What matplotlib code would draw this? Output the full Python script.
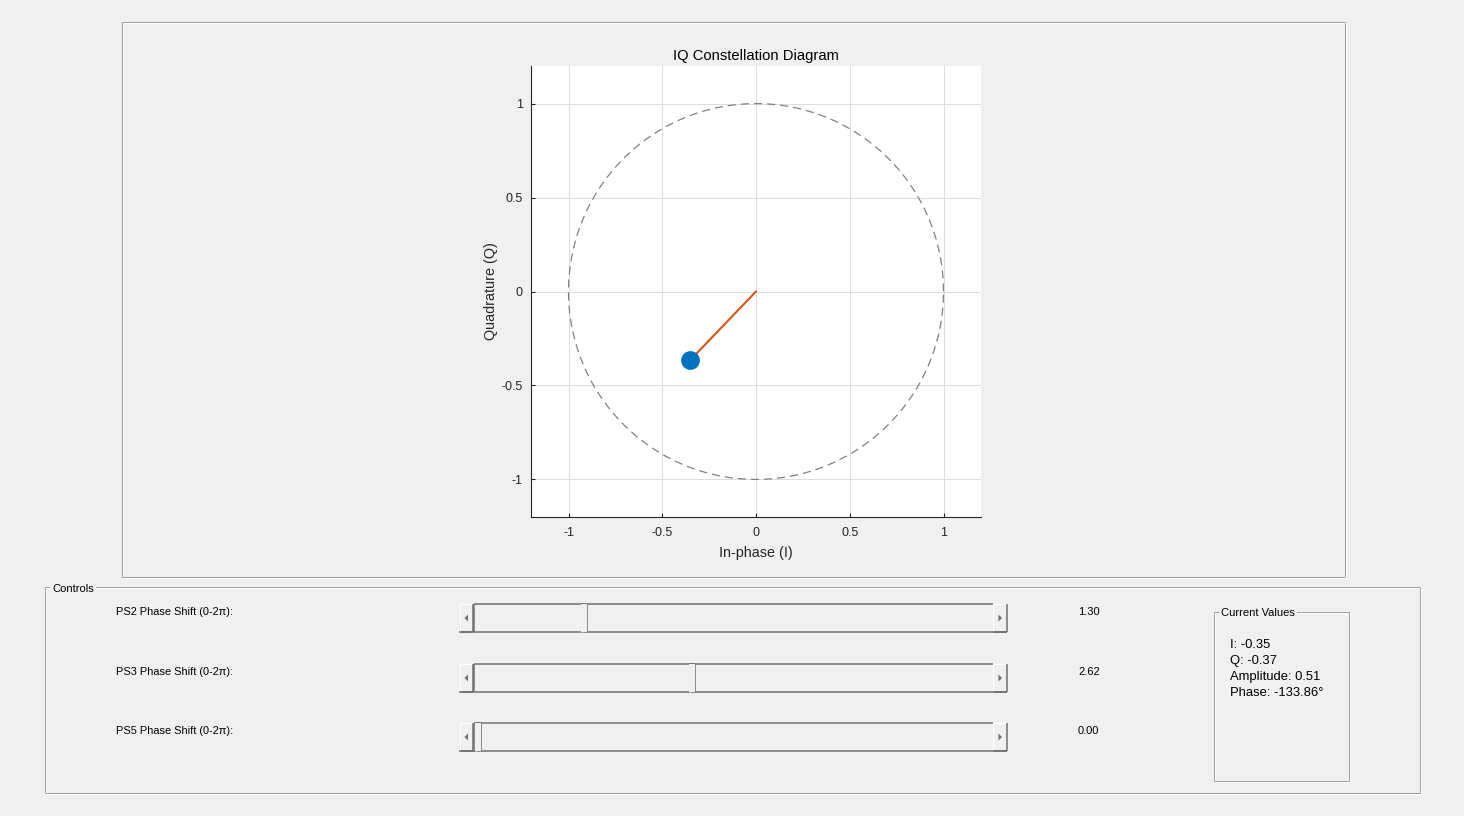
import numpy as np
import matplotlib
matplotlib.use('Agg')
from matplotlib import pyplot as plt
from matplotlib.patches import Rectangle, Polygon

plt.rcParams['font.family'] = ['Liberation Sans', 'DejaVu Sans']

# Data
slider_labels = ['PS2 Phase Shift (0-2π):', 'PS3 Phase Shift (0-2π):', 'PS5 Phase Shift (0-2π):']
slider_values = [1.30, 2.62, 0.00]
i_val = -0.3525
q_val = -0.3668
ticks = [-1, -0.5, 0, 0.5, 1]

BG = '#f0f0f0'
DARK = '#6e6e6e'
EDGE = '#a0a0a0'
PX = 0.72  # one pixel in points at dpi 100

fig = plt.figure(figsize=(14.64, 8.16), dpi=100, facecolor=BG)

# Background axes in pixel coordinates for the GUI chrome
bg = fig.add_axes([0, 0, 1, 1])
bg.set_xlim(0, 1464)
bg.set_ylim(816, 0)
bg.axis('off')
bg.set_facecolor(BG)


def hline(x0, x1, y, c, lw=1):
    bg.plot([x0, x1], [y, y], color=c, lw=lw * PX, solid_capstyle='butt')


def vline(x, y0, y1, c, lw=1):
    bg.plot([x, x], [y0, y1], color=c, lw=lw * PX, solid_capstyle='butt')


def etched(x0, y0, x1, y1):
    # grey line with a white line just inside, like a Windows group box
    for off, c in [(1, 'white'), (0, EDGE)]:
        hline(x0 + off, x1 + off, y0 + off, c)
        hline(x0 + off, x1 + off, y1 + off, c)
        vline(x0 + off, y0 + off, y1 + off, c)
        vline(x1 + off, y0 + off, y1 + off, c)


def panel_title(x, y, s, size=8):
    bg.text(x, y, s, fontsize=size, va='center', ha='left', color='black',
            bbox=dict(facecolor=BG, edgecolor='none', pad=1.5))


etched(122, 22, 1345, 577)
etched(45, 587, 1420, 793)
panel_title(52, 588.5, 'Controls')
etched(1214, 612, 1349, 781)
panel_title(1221, 613.5, 'Current Values')


def button(x0, x1, y0, y1, direction):
    bg.add_patch(Rectangle((x0, y0), x1 - x0, y1 - y0, facecolor=BG, edgecolor='none'))
    hline(x0, x1, y0, 'white')
    vline(x0, y0, y1, 'white')
    hline(x0, x1, y1, DARK, 1.5)
    vline(x1, y0, y1, DARK, 1.5)
    cx, cy = (x0 + x1) / 2, (y0 + y1) / 2
    if direction == 'left':
        pts = [(cx - 2, cy), (cx + 1.5, cy - 3.5), (cx + 1.5, cy + 3.5)]
    else:
        pts = [(cx + 2, cy), (cx - 1.5, cy - 3.5), (cx - 1.5, cy + 3.5)]
    bg.add_patch(Polygon(pts, closed=True, facecolor='#707070', edgecolor='none'))


row_y = [604, 664, 723]
sl_x0, sl_x1 = 459, 1007
trough_x0, trough_x1 = 474, 993
for lab, val, y in zip(slider_labels, slider_values, row_y):
    y1 = y + 28
    bg.text(116, y + 8, lab, fontsize=7.9, va='center', ha='left')
    bg.text(1078, y + 8, '%.2f' % val, fontsize=8, va='center', ha='left')
    # trough
    hline(trough_x0, trough_x1, y, DARK, 1.5)
    hline(sl_x0, sl_x1, y1, DARK, 1.5)
    vline(trough_x0, y, y1, DARK, 1.5)
    # arrow buttons
    button(sl_x0 + 1, trough_x0 - 1, y, y1, 'left')
    button(trough_x1, sl_x1, y, y1, 'right')
    # thumb
    frac = val / (2 * np.pi)
    tx = 475 + frac * 514
    bg.add_patch(Rectangle((tx, y), 6, 28, facecolor=BG, edgecolor='none', zorder=3))
    vline(tx + 0.5, y, y1, 'white')
    vline(tx + 6, y, y1, DARK, 1.5)
    hline(tx, tx + 6, y, DARK, 1.5)

amp = np.hypot(i_val, q_val)
phase = np.degrees(np.arctan2(q_val, i_val))
info = ['I: %.2f' % i_val, 'Q: %.2f' % q_val,
        'Amplitude: %.2f' % amp, 'Phase: %.2f°' % phase]
for k, s in enumerate(info):
    bg.text(1230, 645 + 16 * k, s, fontsize=9.4, va='center', ha='left')

# Constellation axes
ax = fig.add_axes([531 / 1464, 1 - 517 / 816, 450 / 1464, 451 / 816])
ax.set_facecolor('white')
theta = np.linspace(0, 2 * np.pi, 400)
ax.plot(np.cos(theta), np.sin(theta), color='#808080', lw=0.9,
        linestyle=(0, (6.5, 4)))
ax.plot([0, i_val], [0, q_val], color='#D95319', lw=1.5)
ax.plot([i_val], [q_val], 'o', color='#0072BD', markersize=12.5,
        markeredgecolor='#0072BD')
ax.set_xlim(-1.2, 1.2)
ax.set_ylim(-1.2, 1.2)
ax.set_xticks(ticks)
ax.set_yticks(ticks)
ax.set_xticklabels(['-1', '-0.5', '0', '0.5', '1'])
ax.set_yticklabels(['-1', '-0.5', '0', '0.5', '1'])
ax.grid(True, color='#dcdcdc', lw=0.7)
ax.set_axisbelow(True)
for side in ['top', 'right']:
    ax.spines[side].set_visible(False)
for side in ['left', 'bottom']:
    ax.spines[side].set_color('#262626')
    ax.spines[side].set_linewidth(0.8)
ax.tick_params(direction='in', length=3, width=0.8, colors='#262626',
               labelsize=9, pad=6)
ax.tick_params(axis='x', pad=7.5)
ax.set_title('IQ Constellation Diagram', fontsize=10.6, pad=4)
ax.set_xlabel('In-phase (I)', fontsize=10.4, color='#262626', labelpad=5)
ax.set_ylabel('Quadrature (Q)', fontsize=10.4, color='#262626', labelpad=2.5)

fig.savefig('out.png', dpi=100, facecolor=BG)
